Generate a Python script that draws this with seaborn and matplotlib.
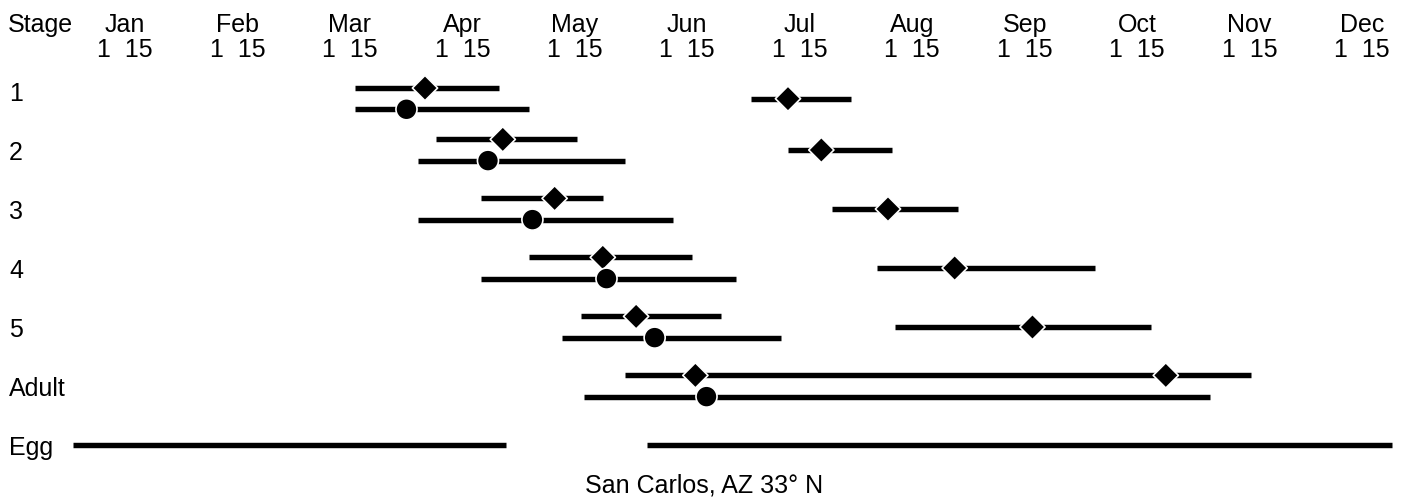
import matplotlib
matplotlib.use('Agg')
import matplotlib.pyplot as plt
import numpy as np
import pandas as pd
import seaborn as sns

sns.set_style('white')
plt.rcParams['font.family'] = ['Liberation Sans', 'DejaVu Sans']
plt.rcParams['text.color'] = 'black'

stages = ['1', '2', '3', '4', '5', 'Adult', 'Egg']
months = ['Jan', 'Feb', 'Mar', 'Apr', 'May', 'Jun',
          'Jul', 'Aug', 'Sep', 'Oct', 'Nov', 'Dec']

# all values are day of year (0 = Jan 1)
# spring brood, diamond: stages 1-5 and Adult
spring_start = [77, 99, 111, 124, 138, 150]
spring_peak = [96, 117, 131, 144, 153, 169]
spring_end = [116, 137, 144, 168, 176, 319]

# spring brood, circle: stages 1-5 and Adult
circle_start = [77, 94, 94, 111, 133, 139]
circle_peak = [91, 113, 125, 145, 158, 172]
circle_end = [124, 150, 163, 180, 192, 308]

# summer brood, diamond: stages 1-5
summer_start = [184, 194, 206, 218, 223]
summer_peak = [194, 203, 221, 239, 260]
summer_end = [211, 222, 240, 277, 292]

# second adult peak on the spring adult line
adult_late_peak = 296

egg_start = [1, 156]
egg_end = [118, 357]

# layout: row centres per stage (first stage sits a bit lower) and row offsets
stage_pos = np.arange(len(stages), dtype=float)
stage_pos[0] += 0.13
row_off = {'upper': -0.18, 'lower': 0.18, 'middle': 0.0}

segs = []
marks = []


def add(stage_idx, row, start, end, peak=None, shape=None):
    y = stage_pos[stage_idx] + row_off[row]
    n = len(segs)
    segs.append({'seg': n, 'day': start, 'y': y})
    segs.append({'seg': n, 'day': end, 'y': y})
    if peak is not None:
        marks.append({'day': peak, 'y': y, 'shape': shape})


for i in range(6):
    add(i, 'upper', spring_start[i], spring_end[i], spring_peak[i], 'diamond')
    add(i, 'lower', circle_start[i], circle_end[i], circle_peak[i], 'circle')
for i in range(5):
    add(i, 'middle', summer_start[i], summer_end[i], summer_peak[i], 'diamond')
marks.append({'day': adult_late_peak, 'y': stage_pos[5] + row_off['upper'],
              'shape': 'diamond'})
for s, e in zip(egg_start, egg_end):
    add(6, 'middle', s, e)

seg_df = pd.DataFrame(segs)
mark_df = pd.DataFrame(marks)

fig = plt.figure(figsize=(14.09, 5.02), dpi=100)
ax = fig.add_axes([0, 0, 1, 1])

sns.lineplot(data=seg_df, x='day', y='y', units='seg', estimator=None,
             sort=False, color='black', linewidth=3.9,
             solid_capstyle='butt', ax=ax)
sns.scatterplot(data=mark_df, x='day', y='y', style='shape', size='shape',
                markers={'diamond': 'D', 'circle': 'o'},
                sizes={'diamond': 165, 'circle': 230},
                color='black', edgecolor='white', linewidth=1.2,
                legend=False, zorder=3, ax=ax)

ax.set_xlim(-18.74, 361.66)
ax.set_ylim(6.949, -1.559)
ax.axis('off')

fs = 18
ax.text(-16.6, -1.14, 'Stage', fontsize=fs, ha='left', va='center')
for x, m in zip(np.linspace(15, 349, 12), months):
    ax.text(x, -1.14, m, fontsize=fs, ha='center', va='center')
    ax.text(x, -0.72, '1  15', fontsize=fs, ha='center', va='center')
for i, s in enumerate(stages):
    ax.text(-16.3, i + 0.03, s, fontsize=fs, ha='left', va='center')

fig.text(0.5, 0.032, 'San Carlos, AZ 33\u00b0 N', fontsize=fs,
         ha='center', va='center')

fig.savefig('out.png', dpi=100)
